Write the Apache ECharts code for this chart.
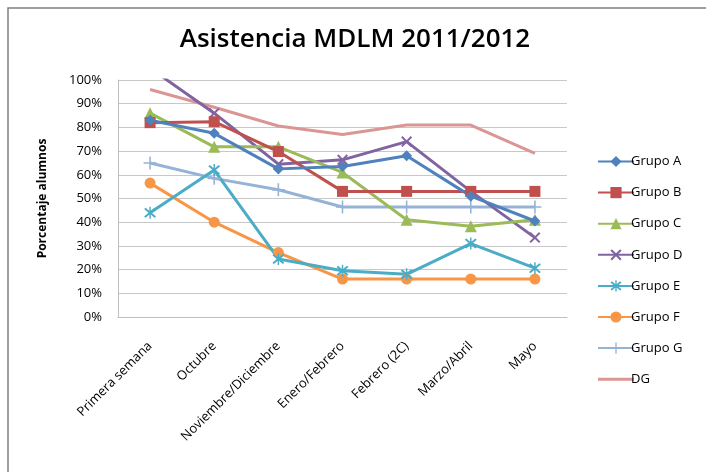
<!DOCTYPE html>
<html>
<head>
<meta charset="utf-8">
<script src="https://cdn.jsdelivr.net/npm/echarts@6/dist/echarts.min.js"></script>
<style>html,body{margin:0;padding:0;background:#fff}#c{width:710px;height:472px}</style>
</head>
<body>
<div id="c"></div>
<script>
var categories = ['Primera semana', 'Octubre', 'Noviembre/Diciembre', 'Enero/Febrero', 'Febrero (2C)', 'Marzo/Abril', 'Mayo'];
var yTicks = [0, 10, 20, 30, 40, 50, 60, 70, 80, 90, 100];
var grupoA = [83, 77.5, 62.5, 63.5, 68, 51, 40.5];
var grupoB = [82, 82.4, 69.8, 53, 53, 53, 53];
var grupoC = [86, 71.8, 71.8, 61, 41, 38.3, 41];
var grupoD = [105, 86, 64.5, 66.3, 74, 53, 33.5];
var grupoE = [44, 62, 24.5, 19.5, 18, 31, 20.6];
var grupoF = [56.5, 40, 27.2, 16, 16, 16, 16];
var grupoG = [65, 58.5, 53.7, 46.4, 46.4, 46.4, 46.4];
var dg = [96, 88.5, 80.6, 77, 81, 81, 69];

var crossPath = 'path://M0,1.3 L1.3,0 L5,3.7 L8.7,0 L10,1.3 L6.3,5 L10,8.7 L8.7,10 L5,6.3 L1.3,10 L0,8.7 L3.7,5 Z';
var starPath = 'path://M0,1.3 L1.3,0 L5,3.7 L8.7,0 L10,1.3 L6.3,5 L10,8.7 L8.7,10 L5,6.3 L1.3,10 L0,8.7 L3.7,5 Z M4.4,-1 L5.6,-1 L5.6,11 L4.4,11 Z';
var plusPath = 'path://M4.4,0 L5.6,0 L5.6,10 L4.4,10 Z M0,4.4 L10,4.4 L10,5.6 L0,5.6 Z';
var lineIcon = 'path://M0,0 L12,0 L12,1 L0,1 Z';

function mk(name, data, color, symbol, size) {
  return {
    name: name, type: 'line', data: data, clip: true,
    symbol: symbol, symbolSize: size, showSymbol: symbol !== 'none',
    lineStyle: { color: color, width: 3 },
    itemStyle: { color: color },
    emphasis: { disabled: true },
    z: 2
  };
}

var chart = echarts.init(document.getElementById('c'));
chart.setOption({
  animation: false,
  title: {
    text: 'Asistencia MDLM 2011/2012',
    left: 'center', top: 22,
    textStyle: { fontFamily: 'Open Sans', fontWeight: 600, fontSize: 26, color: '#000' }
  },
  graphic: [
    { type: 'polyline', shape: { points: [[8, 472], [8, 8], [706, 8]] }, style: { stroke: '#808080', lineWidth: 1.5, fill: null } }
  ],
  grid: { left: 118, right: 143, top: 80, bottom: 155 },
  legend: {
    orient: 'vertical', left: 592, top: 150,
    itemWidth: 36, itemHeight: 14, itemGap: 18.1,
    textStyle: { fontFamily: 'Open Sans', fontSize: 13, color: '#000', padding: [0, 0, 0, -8] },
    data: ['Grupo A', 'Grupo B', 'Grupo C', 'Grupo D', 'Grupo E', 'Grupo F', 'Grupo G', { name: 'DG', icon: lineIcon }]
  },
  xAxis: {
    type: 'category', data: categories, boundaryGap: true,
    axisLine: { lineStyle: { color: '#BFBFBF', width: 1 } },
    axisTick: { show: false },
    axisLabel: { rotate: 45, interval: 0, margin: 27, fontFamily: 'Open Sans', fontSize: 13, color: '#000' }
  },
  yAxis: {
    type: 'value', min: 0, max: 100, interval: 10,
    name: 'Porcentaje alumnos', nameLocation: 'middle', nameGap: 69, nameRotate: 90,
    nameTextStyle: { fontFamily: 'Open Sans', fontWeight: 'bold', fontSize: 12, color: '#000' },
    axisLine: { show: true, lineStyle: { color: '#BFBFBF', width: 1 } },
    axisTick: { show: false },
    splitLine: { lineStyle: { color: '#C8C8C8', width: 1 } },
    axisLabel: {
      margin: 16, fontFamily: 'Open Sans', fontSize: 13, color: '#000',
      formatter: function (v) { return yTicks.indexOf(v) >= 0 ? v + '%' : ''; }
    }
  },
  series: [
    mk('DG', dg, '#D99694', 'none', 0),
    mk('Grupo G', grupoG, '#95B3D7', plusPath, 13),
    mk('Grupo F', grupoF, '#F79646', 'circle', 11),
    mk('Grupo E', grupoE, '#4BACC6', starPath, 12),
    mk('Grupo D', grupoD, '#8064A2', crossPath, 11),
    mk('Grupo C', grupoC, '#9BBB59', 'triangle', 12),
    mk('Grupo B', grupoB, '#C0504D', 'rect', 11),
    mk('Grupo A', grupoA, '#4F81BD', 'diamond', 11)
  ]
});
</script>
</body>
</html>
